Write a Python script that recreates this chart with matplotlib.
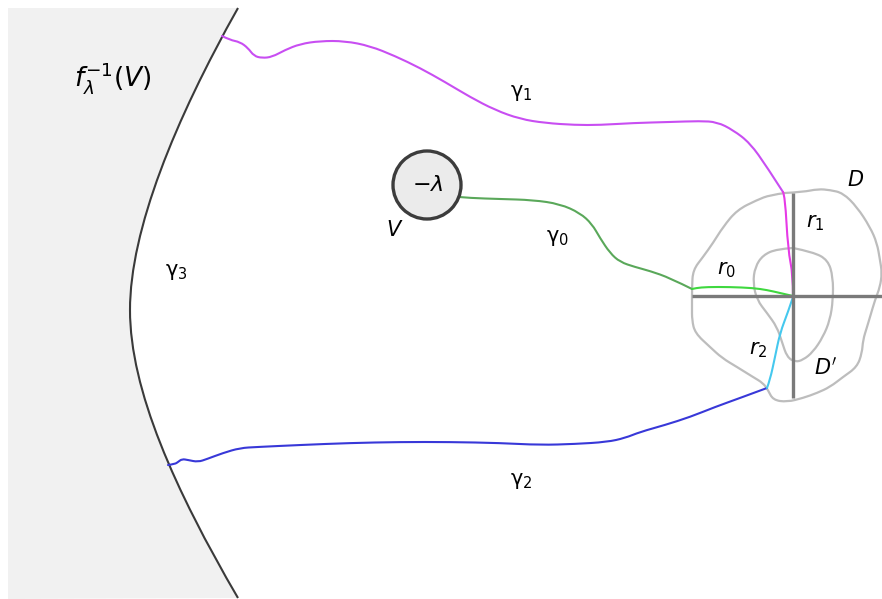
import matplotlib.pyplot as plt
from matplotlib.path import Path
from matplotlib.patches import PathPatch, Circle

W, H = 882, 599

# boundary of f^-1(V): two cubic pieces (start, ctrl, ctrl, end)
boundary_top = [(238, 8), (175, 120), (130, 230), (130, 310)]
boundary_bot = [(130, 310), (130, 390), (175, 490), (238, 598)]

# curves
gamma1_x = [222, 230, 240, 248, 254, 262, 272, 285, 300, 320, 345, 370, 395, 420, 445, 470,
            495, 520, 545, 575, 600, 633, 670, 700, 717, 733, 750, 767, 783]
gamma1_y = [36, 40, 42, 48, 56, 58, 57, 50, 44, 41, 41, 46, 56, 68, 82, 97,
            110, 119, 123, 125, 125, 123, 122, 121, 122, 130, 143, 167, 192]
r1_x = [783, 785, 788, 793, 793]
r1_y = [192, 196, 250, 275, 296]

gamma0_x = [459, 470, 500, 533, 560, 580, 592, 600, 610, 620, 635, 650, 670, 692]
gamma0_y = [197, 198, 199, 200, 204, 213, 224, 238, 253, 262, 267, 271, 278, 289]
r0_x = [692, 696, 707, 730, 753, 767, 780, 793]
r0_y = [289, 288, 287, 287, 288, 290, 293, 296]

gamma2_x = [168, 175, 178, 182, 188, 198, 207, 223, 240, 257, 300, 350, 400, 450, 500, 540,
            575, 607, 625, 640, 665, 690, 715, 740, 767]
gamma2_y = [465, 464, 462, 459, 460, 462, 459, 453, 448, 447, 445, 443, 442, 442, 443, 445,
            444, 442, 438, 432, 425, 417, 407, 398, 388]
r2_x = [767, 770, 775, 780, 788, 793]
r2_y = [388, 380, 357, 333, 312, 297]

# outlines of D and D'
D_x = [785, 803, 818, 830, 843, 857, 870, 877, 880, 882, 880, 875, 870, 867, 863, 862, 857,
       843, 830, 817, 803, 787, 773, 768, 763, 753, 737, 722, 710, 695, 692, 692, 692, 693,
       703, 713, 723, 737, 757, 770, 785]
D_y = [193, 192, 189, 190, 193, 207, 227, 243, 260, 273, 287, 300, 317, 327, 340, 353, 367,
       377, 387, 393, 398, 402, 400, 390, 383, 377, 367, 358, 347, 333, 320, 307, 287, 270,
       257, 243, 227, 210, 200, 195, 193]
Dp_x = [793, 813, 828, 833, 833, 830, 823, 813, 803, 795, 787, 782, 777, 767, 757, 753, 755,
        763, 777, 793]
Dp_y = [248, 252, 260, 277, 300, 320, 337, 352, 360, 362, 357, 342, 327, 313, 300, 283, 267,
        255, 249, 248]


def smooth(ax, xs, ys, **kw):
    # quadratic pieces: inner points act as controls, midpoints lie on the curve
    pts = list(zip(xs, ys))
    verts = [pts[0]]
    codes = [Path.MOVETO]
    for i in range(1, len(pts) - 1):
        mid = ((pts[i][0] + pts[i + 1][0]) / 2, (pts[i][1] + pts[i + 1][1]) / 2)
        if i == len(pts) - 2:
            mid = pts[-1]
        verts += [pts[i], mid]
        codes += [Path.CURVE3, Path.CURVE3]
    if len(pts) == 2:
        verts.append(pts[1])
        codes.append(Path.LINETO)
    ax.add_patch(PathPatch(Path(verts, codes), facecolor='none', capstyle='round',
                           joinstyle='round', **kw))


fig = plt.figure(figsize=(W / 100, H / 100), dpi=100)
ax = fig.add_axes([0, 0, 1, 1])
ax.set_xlim(0, W)
ax.set_ylim(H, 0)
ax.axis('off')

codes = [Path.MOVETO, Path.CURVE4, Path.CURVE4, Path.CURVE4, Path.CURVE4, Path.CURVE4, Path.CURVE4]
bverts = boundary_top + boundary_bot[1:]
region = Path([(8, 8)] + bverts + [(8, 599), (8, 8)],
              [Path.MOVETO, Path.LINETO] + codes[1:] + [Path.LINETO, Path.CLOSEPOLY])
ax.add_patch(PathPatch(region, facecolor='#f1f1f1', edgecolor='none'))
ax.add_patch(PathPatch(Path(bverts, codes), facecolor='none', edgecolor='#3a3a3a', lw=1.5))

smooth(ax, D_x, D_y, edgecolor='#bdbdbd', lw=1.6)
smooth(ax, Dp_x, Dp_y, edgecolor='#bdbdbd', lw=1.6)
ax.plot([692, 882], [296, 296], color='#7a7a7a', lw=2.4, solid_capstyle='butt')
ax.plot([793, 793], [193, 398], color='#7a7a7a', lw=2.4, solid_capstyle='butt')

smooth(ax, gamma1_x, gamma1_y, edgecolor='#c84ef2', lw=1.5)
smooth(ax, r1_x, r1_y, edgecolor='#e63ae6', lw=1.5)
smooth(ax, gamma0_x, gamma0_y, edgecolor='#5aa85a', lw=1.5)
smooth(ax, r0_x, r0_y, edgecolor='#3fd83f', lw=1.5)
smooth(ax, gamma2_x, gamma2_y, edgecolor='#3838d8', lw=1.5)
smooth(ax, r2_x, r2_y, edgecolor='#45c8ee', lw=1.5)

ax.add_patch(Circle((427, 185), 34, facecolor='#ebebeb', edgecolor='#3c3c3c', lw=2.4, zorder=3))
ax.text(428, 185, r'$-\lambda$', fontsize=16, ha='center', va='center', zorder=4)

txt = dict(fontsize=15, ha='center', va='center')
ax.text(113, 78, r'$f_\lambda^{-1}(V)$', fontsize=19, ha='center', va='center')
ax.text(395, 230, r'$V$', **txt)
ax.text(521, 93, r'$\mathrm{\gamma}_1$', **txt)
ax.text(557, 238, r'$\mathrm{\gamma}_0$', **txt)
ax.text(521, 481, r'$\mathrm{\gamma}_2$', **txt)
ax.text(176, 272, r'$\mathrm{\gamma}_3$', **txt)
ax.text(856, 180, r'$D$', **txt)
ax.text(826, 367, r"$D'$", **txt)
ax.text(815, 223, r'$r_1$', **txt)
ax.text(726, 270, r'$r_0$', **txt)
ax.text(758, 350, r'$r_2$', **txt)

fig.savefig('out.png', dpi=100)
